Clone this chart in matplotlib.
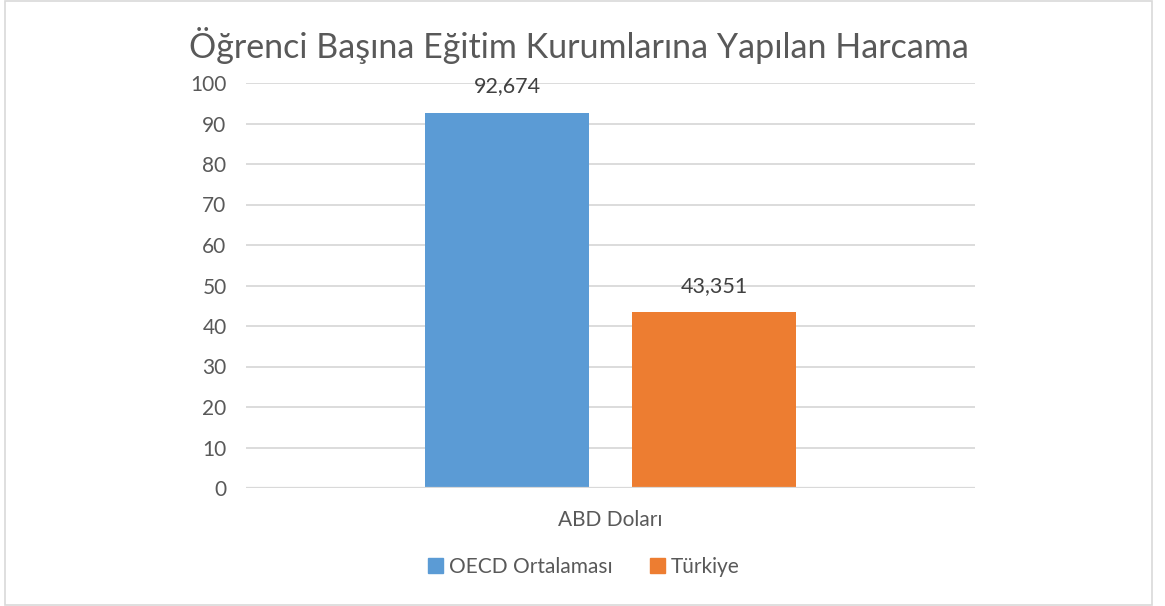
import numpy as np
import matplotlib
matplotlib.use("Agg")
from matplotlib import pyplot as plt
from matplotlib.patches import Rectangle, Patch

plt.rcParams['font.family'] = ['Lato', 'DejaVu Sans']

title = "Öğrenci Başına Eğitim Kurumlarına Yapılan Harcama"
category = "ABD Doları"
series = ["OECD Ortalaması", "Türkiye"]
values = [92.674, 43.351]
value_labels = ["92,674", "43,351"]
colors = ["#5B9BD5", "#ED7D31"]
y_ticks = list(range(0, 101, 10))

W, H = 1165, 606
TEXT = "#595959"
GRID = "#D9D9D9"

fig = plt.figure(figsize=(W / 100, H / 100), dpi=100)
fig.patch.set_facecolor("white")

# outer chart border
fig.patches.append(Rectangle((5 / W, 1 - 605 / H), 1147 / W, 604 / H,
                             transform=fig.transFigure, fill=False,
                             edgecolor=GRID, linewidth=1.2))

ax = fig.add_axes([246 / W, 1 - 488 / H, 729 / W, 405 / H])

bar_w = 0.225
offsets = [-0.142, 0.142]
for off, val, lab, col in zip(offsets, values, value_labels, colors):
    ax.bar(off, val, width=bar_w, color=col, zorder=3)
    ax.annotate(lab, (off, val), xytext=(0, 12), textcoords="offset points",
                ha="center", va="bottom", fontsize=15.5, color="#404040")

ax.set_xlim(-0.5, 0.5)
ax.set_ylim(0, 100)
ax.set_yticks(y_ticks)
ax.set_xticks([0])
ax.set_xticklabels([category])
ax.tick_params(axis="y", length=0, pad=14, labelsize=15, labelcolor=TEXT)
ax.tick_params(axis="x", length=0, pad=16, labelsize=15, labelcolor=TEXT)
ax.grid(axis="y", color=GRID, linewidth=1.3, zorder=0)
for s in ax.spines.values():
    s.set_visible(False)
ax.axhline(0, color=GRID, linewidth=1.6, zorder=4)

fig.text(579 / W, 1 - 46 / H, title, ha="center", va="center",
         fontsize=24.5, color=TEXT)

handles = [Patch(color=c, label=s) for c, s in zip(colors, series)]
fig.legend(handles=handles, loc="center", bbox_to_anchor=(584 / W, 1 - 567 / H),
           ncol=2, frameon=False, fontsize=15, labelcolor=TEXT,
           handlelength=0.7, handleheight=0.7, handletextpad=0.3,
           columnspacing=1.8)

fig.savefig("out.png", dpi=100)
